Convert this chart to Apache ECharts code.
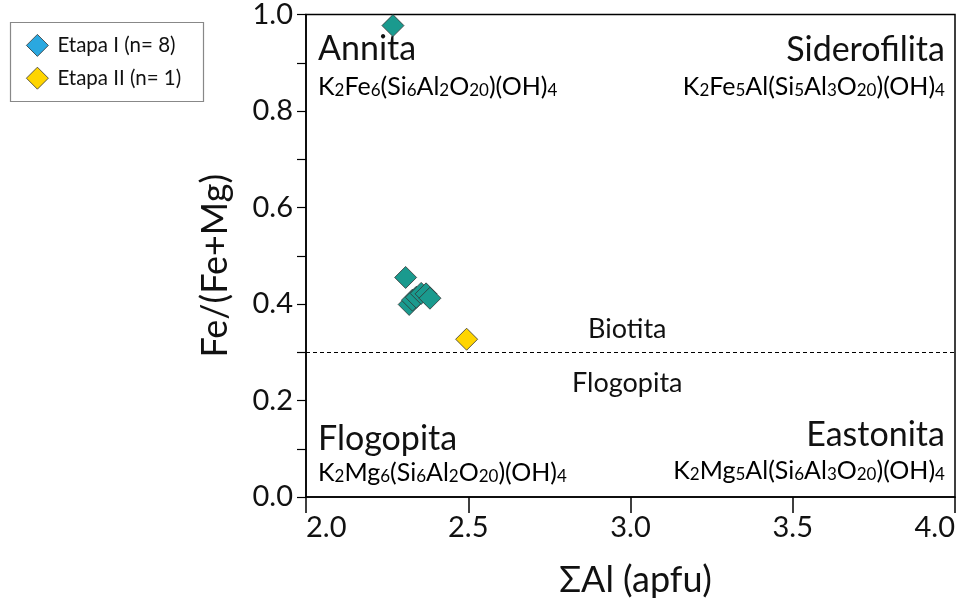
<!DOCTYPE html>
<html>
<head>
<meta charset="utf-8">
<script src="https://cdn.jsdelivr.net/npm/echarts@6/dist/echarts.min.js"></script>
<style>
  html, body { margin: 0; padding: 0; background: #fff; }
  #chart { width: 963px; height: 599px; }
</style>
</head>
<body>
<div id="chart"></div>
<script>
// Biotite classification: ΣAl (apfu) vs Fe/(Fe+Mg)
const etapaI_Al   = [2.268, 2.307, 2.318, 2.328, 2.340, 2.355, 2.370, 2.382];
const etapaI_FeMg = [0.977, 0.455, 0.399, 0.408, 0.414, 0.422, 0.421, 0.412];
const etapaII_Al   = [2.495];
const etapaII_FeMg = [0.327];

const seriesNames = ['Etapa I (n= 8)', 'Etapa II (n= 1)'];
const xTicks = [2.0, 2.5, 3.0, 3.5, 4.0];
const yTicks = [0.0, 0.2, 0.4, 0.6, 0.8, 1.0];
const biotitaLimit = 0.3;

const FONT = 'Lato';
const INK = '#111';

const chart = echarts.init(document.getElementById('chart'));

function pairs(xs, ys) { return xs.map((x, i) => [x, ys[i]]); }

// formula text with subscripts as rich text
function formula(parts) {
  return parts.map(p => typeof p === 'number' ? '{s|' + p + '}' : '{n|' + p + '}').join('');
}
const formulaRich = {
  n: { fontFamily: FONT, fontSize: 25, lineHeight: 30, color: INK, verticalAlign: 'bottom' },
  s: { fontFamily: FONT, fontSize: 17, lineHeight: 23, color: INK, verticalAlign: 'bottom' }
};

chart.setOption({
  animation: false,
  backgroundColor: '#fff',
  grid: { left: 306, top: 12, width: 649, height: 485, show: true, borderColor: '#000', borderWidth: 1.5 },
  legend: {
    orient: 'vertical',
    left: 21, top: 29,
    itemWidth: 22, itemHeight: 22, itemGap: 10,
    icon: 'diamond',
    textStyle: { fontFamily: FONT, fontSize: 20.5, lineHeight: 22, color: INK, padding: [0, 0, 0, 4] },
    data: [
      { name: seriesNames[0], itemStyle: { color: '#2aa8e0', borderColor: '#333', borderWidth: 0.8 } },
      { name: seriesNames[1], itemStyle: { color: '#ffd500', borderColor: '#333', borderWidth: 0.8 } }
    ]
  },
  xAxis: {
    type: 'value', min: xTicks[0], max: xTicks[xTicks.length - 1], interval: 0.5,
    axisLine: { onZero: false, lineStyle: { color: '#000', width: 1.5 } },
    axisTick: { inside: false, length: 16, lineStyle: { color: '#000', width: 1.5 } },
    axisLabel: {
      fontFamily: FONT, fontSize: 29, color: INK, margin: 16,
      alignMinLabel: 'left', alignMaxLabel: 'right',
      formatter: v => v.toFixed(1)
    },
    splitLine: { show: false }
  },
  yAxis: {
    type: 'value', min: yTicks[0], max: yTicks[yTicks.length - 1], interval: 0.2,
    axisLine: { onZero: false, lineStyle: { color: '#000', width: 1.5 } },
    axisTick: { inside: false, length: 9, lineStyle: { color: '#000', width: 1.2 } },
    minorTick: { show: true, splitNumber: 2, length: 9, lineStyle: { color: '#000', width: 1.2 } },
    axisLabel: { fontFamily: FONT, fontSize: 29, color: INK, margin: 13, formatter: v => v.toFixed(1) },
    splitLine: { show: false }
  },
  series: [
    {
      name: seriesNames[0], type: 'scatter', symbol: 'diamond', symbolSize: 22,
      itemStyle: { color: '#1a9a8e', borderColor: '#333', borderWidth: 0.8, opacity: 1 },
      data: pairs(etapaI_Al, etapaI_FeMg),
      markLine: {
        silent: true, symbol: 'none',
        label: { show: false },
        lineStyle: { color: '#000', type: [4, 3], width: 1.2 },
        data: [{ yAxis: biotitaLimit }]
      },
      z: 3
    },
    {
      name: seriesNames[1], type: 'scatter', symbol: 'diamond', symbolSize: 22,
      itemStyle: { color: '#ffd500', borderColor: '#333', borderWidth: 0.8, opacity: 1 },
      data: pairs(etapaII_Al, etapaII_FeMg),
      z: 3
    }
  ]
});

// Field names and end-member formulas, anchored in data coordinates
const fields = [
  { name: 'Annita',       f: ['K', 2, 'Fe', 6, '(Si', 6, 'Al', 2, 'O', 20, ')(OH)', 4],
    title: [2.037, 0.893], formulaAt: [2.037, 0.856], align: 'left' },
  { name: 'Siderofilita', f: ['K', 2, 'Fe', 5, 'Al(Si', 5, 'Al', 3, 'O', 20, ')(OH)', 4],
    title: [3.969, 0.892], formulaAt: [3.969, 0.856], align: 'right' },
  { name: 'Flogopita',    f: ['K', 2, 'Mg', 6, '(Si', 6, 'Al', 2, 'O', 20, ')(OH)', 4],
    title: [2.037, 0.0845], formulaAt: [2.037, 0.0557], align: 'left' },
  { name: 'Eastonita',    f: ['K', 2, 'Mg', 5, 'Al(Si', 6, 'Al', 3, 'O', 20, ')(OH)', 4],
    title: [3.969, 0.094], formulaAt: [3.969, 0.060], align: 'right' }
];

const graphics = [];
fields.forEach(fd => {
  const p = chart.convertToPixel({ gridIndex: 0 }, fd.title);
  const q = chart.convertToPixel({ gridIndex: 0 }, fd.formulaAt);
  graphics.push({
    type: 'text', x: p[0], y: p[1],
    style: { text: fd.name, fontFamily: FONT, fontSize: 34, fill: INK, align: fd.align, verticalAlign: 'bottom' }
  });
  graphics.push({
    type: 'text', x: q[0], y: q[1],
    style: { text: formula(fd.f), rich: formulaRich, align: fd.align, verticalAlign: 'middle' }
  });
});

// Biotita / Flogopita boundary labels
const pB = chart.convertToPixel({ gridIndex: 0 }, [2.99, biotitaLimit]);
graphics.push({
  type: 'text', x: pB[0], y: pB[1] - 23,
  style: { text: 'Biotita', fontFamily: FONT, fontSize: 27, fill: INK, align: 'center', verticalAlign: 'middle' }
});
graphics.push({
  type: 'text', x: pB[0], y: pB[1] + 31,
  style: { text: 'Flogopita', fontFamily: FONT, fontSize: 27, fill: INK, align: 'center', verticalAlign: 'middle' }
});

// axis titles
const gr = chart.convertToPixel({ gridIndex: 0 }, [3.0, 0.5]);
graphics.push({
  type: 'text', x: 215, y: gr[1] + 10, rotation: Math.PI / 2,
  style: { text: 'Fe/(Fe+Mg)', fontFamily: FONT, fontSize: 36, fill: INK, align: 'center', verticalAlign: 'middle' }
});
graphics.push({
  type: 'text', x: gr[0] + 5, y: 580,
  style: { text: 'ΣAl (apfu)', fontFamily: FONT, fontSize: 36, fill: INK, align: 'center', verticalAlign: 'middle' }
});

// legend frame
graphics.push({
  type: 'rect', shape: { x: 10.5, y: 22.5, width: 193, height: 79 },
  style: { fill: 'none', stroke: '#888', lineWidth: 1.2 }, z: -1
});

chart.setOption({ graphic: graphics });
</script>
</body>
</html>
